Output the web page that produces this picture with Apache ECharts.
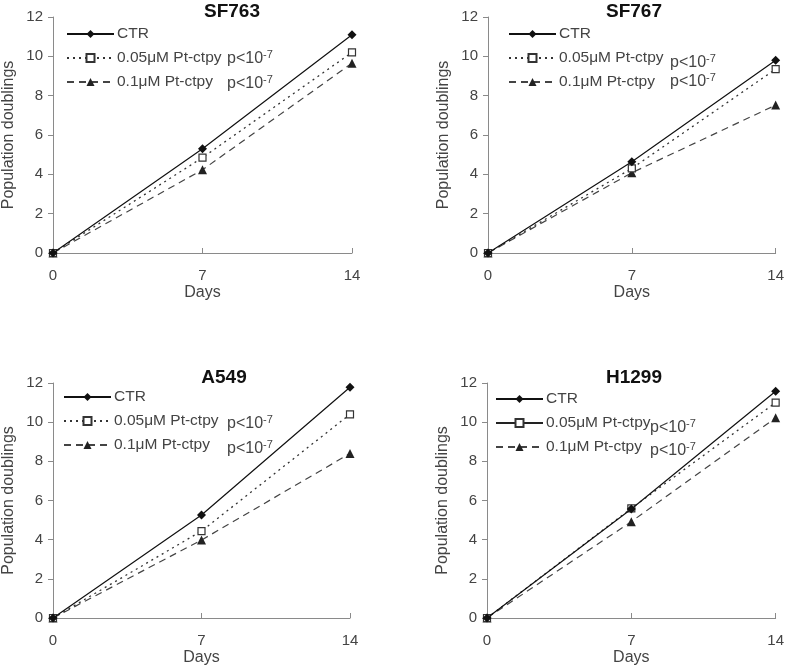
<!DOCTYPE html>
<html>
<head>
<meta charset="utf-8">
<script src="https://cdn.jsdelivr.net/npm/echarts@6/dist/echarts.min.js"></script>
<style>html,body{margin:0;padding:0;background:#fff;}#c{width:787px;height:668px;}</style>
</head>
<body>
<div id="c"></div>
<script>
const days = [0, 7, 14];
const xTicks = [0, 7, 14];
const panelTitles = ['SF763', 'SF767', 'A549', 'H1299'];
const seriesNames = ['CTR', '0.05μM Pt-ctpy', '0.1μM Pt-ctpy'];
const pLabel = 'p<10';
const pExp = '-7';

const sf763_ctr = [0, 5.3, 11.1];
const sf763_005 = [0, 4.85, 10.2];
const sf763_01 = [0, 4.23, 9.65];

const sf767_ctr = [0, 4.64, 9.8];
const sf767_005 = [0, 4.3, 9.35];
const sf767_01 = [0, 4.08, 7.52];

const a549_ctr = [0, 5.26, 11.78];
const a549_005 = [0, 4.44, 10.4];
const a549_01 = [0, 3.98, 8.4];

const h1299_ctr = [0, 5.57, 11.58];
const h1299_005 = [0, 5.6, 11.0];
const h1299_01 = [0, 4.92, 10.22];

const panelData = [
  [sf763_ctr, sf763_005, sf763_01],
  [sf767_ctr, sf767_005, sf767_01],
  [a549_ctr, a549_005, a549_01],
  [h1299_ctr, h1299_005, h1299_01]
];

const FONT = '"Liberation Sans", Arial, sans-serif';
const grids = [
  {left: 53, top: 17, width: 299, height: 236},
  {left: 488, top: 17, width: 289, height: 236},
  {left: 53, top: 383, width: 297, height: 235},
  {left: 487, top: 383, width: 290, height: 235}
];
const titleCenters = [[232, 2], [634, 2], [224, 368], [634, 368]];
const legendPos = [
  {left: 66, top: 25},
  {left: 508, top: 25},
  {left: 63, top: 388},
  {left: 495, top: 390}
];
const pPos = [
  [[227, 49], [227, 74]],
  [[670, 53], [670, 72]],
  [[227, 414], [227, 439]],
  [[650, 418], [650, 441]]
];

const seriesStyles = [
  {symbol: 'diamond', symbolSize: 9, lineType: 'solid', color: '#111', fill: '#111', width: 1.2},
  {symbol: 'rect', symbolSize: 7, lineType: [2, 4], color: '#333', fill: '#fff', width: 1.3},
  {symbol: 'triangle', symbolSize: 9, lineType: [7, 5], color: '#444', fill: '#222', width: 1.2}
];

const axisColor = '#8a8a8a';
const labelColor = '#444';

const option = {
  backgroundColor: '#fff',
  animation: false,
  grid: [], xAxis: [], yAxis: [], series: [], legend: [], graphic: []
};

panelTitles.forEach((t, i) => {
  const g = grids[i];
  option.grid.push(g);
  option.graphic.push({
    type: 'text', x: titleCenters[i][0], y: titleCenters[i][1],
    style: {text: t, textAlign: 'center', textVerticalAlign: 'top',
      font: 'bold 19px ' + FONT, fill: '#111'}
  });
  option.xAxis.push({
    type: 'value', gridIndex: i, min: xTicks[0], max: xTicks[xTicks.length - 1], interval: 7,
    name: 'Days', nameLocation: 'middle', nameGap: 32,
    nameTextStyle: {fontFamily: FONT, fontSize: 16, color: labelColor},
    axisLine: {lineStyle: {color: axisColor, width: 1}},
    axisTick: {inside: true, length: 5, lineStyle: {color: axisColor}},
    axisLabel: {fontFamily: FONT, fontSize: 15, color: labelColor, margin: 15},
    splitLine: {show: false}
  });
  option.yAxis.push({
    type: 'value', gridIndex: i, min: 0, max: 12, interval: 2,
    name: 'Population doublings', nameLocation: 'middle', nameGap: 36,
    nameTextStyle: {fontFamily: FONT, fontSize: 16, color: labelColor},
    axisLine: {show: true, lineStyle: {color: axisColor, width: 1}},
    axisTick: {show: true, length: 5, lineStyle: {color: axisColor}},
    axisLabel: {fontFamily: FONT, fontSize: 15, color: labelColor, margin: 10},
    splitLine: {show: false}
  });
  panelData[i].forEach((vals, k) => {
    const s = seriesStyles[k];
    option.series.push({
      type: 'line', name: seriesNames[k], xAxisIndex: i, yAxisIndex: i,
      data: days.map((d, j) => [d, vals[j]]),
      symbol: s.symbol, symbolSize: s.symbolSize, showSymbol: true,
      lineStyle: {color: s.color, type: s.lineType, width: s.width},
      itemStyle: {color: s.fill, borderColor: s.color, borderWidth: k === 1 ? 1.2 : 0},
      z: 5 - k
    });
  });
  const legData = seriesNames.map((n, k) => {
    const item = {name: n};
    if (i === 3 && k === 1) item.lineStyle = {type: 'solid', color: '#222'};
    return item;
  });
  option.legend.push({
    data: legData, orient: 'vertical', left: legendPos[i].left, top: legendPos[i].top,
    itemWidth: 47, itemHeight: 10, itemGap: 6, padding: 0,
    selectedMode: false,
    textStyle: {fontFamily: FONT, fontSize: 15.5, color: labelColor, lineHeight: 18, padding: [0, 0, 0, -2]}
  });
  pPos[i].forEach(p => {
    option.graphic.push({
      type: 'text', left: p[0], top: p[1],
      style: {
        text: '{a|' + pLabel + '}{b|' + pExp + '}',
        rich: {
          a: {fontFamily: FONT, fontSize: 16, fill: labelColor, color: labelColor},
          b: {fontFamily: FONT, fontSize: 11, fill: labelColor, color: labelColor, verticalAlign: 'top', padding: [0, 0, 8, 0]}
        }
      }
    });
  });
});

const chart = echarts.init(document.getElementById('c'), null, {renderer: 'canvas'});
chart.setOption(option);
</script>
</body>
</html>
